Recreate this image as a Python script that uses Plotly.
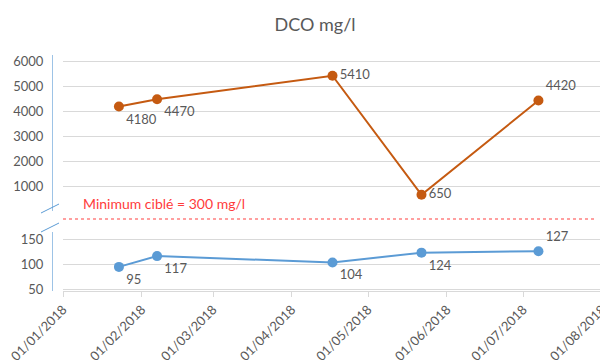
import plotly.graph_objects as go

dates = ["2018-01-23", "2018-02-07", "2018-04-17", "2018-05-22", "2018-07-07"]
dco_high = [4180, 4470, 5410, 650, 4420]
dco_low = [95, 117, 104, 124, 127]
month_ticks = ["2018-01-01", "2018-02-01", "2018-03-01", "2018-04-01",
               "2018-05-01", "2018-06-01", "2018-07-01", "2018-08-01"]
upper_ticks = [0, 1000, 2000, 3000, 4000, 5000, 6000]
upper_ticktext = ["", "1000", "2000", "3000", "4000", "5000", "6000"]
lower_ticks = [50, 100, 150]

ORANGE = "#C55A11"
BLUE = "#5B9BD5"
GRID = "#D9D9D9"
TXT = "#595959"
FONT = "Lato"

# page body has an 8px margin: the figure is drawn 8px right/down
OFF = 8

fig = go.Figure()
fig.add_trace(go.Scatter(
    x=dates, y=dco_high, yaxis="y2", mode="lines+markers+text",
    line=dict(color=ORANGE, width=2), marker=dict(color=ORANGE, size=10),
    text=[str(v) for v in dco_high],
    textposition=["bottom right", "bottom right", "middle right", "middle right", "top right"],
    textfont=dict(color=TXT, size=13, family=FONT), showlegend=False, cliponaxis=False))
fig.add_trace(go.Scatter(
    x=dates, y=dco_low, yaxis="y", mode="lines+markers+text",
    line=dict(color=BLUE, width=2), marker=dict(color=BLUE, size=10),
    text=[str(v) for v in dco_low],
    textposition=["bottom right", "bottom right", "bottom right", "bottom right", "top right"],
    textfont=dict(color=TXT, size=13, family=FONT), showlegend=False, cliponaxis=False))

def py(p):
    return (291 - p) / 251

def px(p):
    return (p - 52) / 550

shapes = [
    dict(type="line", xref="paper", yref="paper", x0=px(63), x1=px(597), y0=py(219), y1=py(219),
         line=dict(color="#FF8080", width=1.5, dash="dot")),
    dict(type="line", xref="paper", yref="paper", x0=px(41), x1=px(59), y0=py(213), y1=py(204),
         line=dict(color=BLUE, width=1)),
    dict(type="line", xref="paper", yref="paper", x0=px(41), x1=px(59), y0=py(232), y1=py(223),
         line=dict(color=BLUE, width=1)),
]

fig.update_layout(
    width=608 - OFF, height=360 - OFF,
    margin=dict(l=52 - OFF, r=6, t=40 - OFF, b=69, autoexpand=False),
    paper_bgcolor="white", plot_bgcolor="white",
    font=dict(family=FONT, color=TXT, size=13),
    title=dict(text="DCO mg/l", x=(315 - OFF) / (608 - OFF), xanchor="center",
               y=1 - (25 - OFF) / (360 - OFF), yanchor="middle",
               font=dict(size=18, color=TXT, family=FONT)),
    xaxis=dict(type="date", range=["2018-01-01", "2018-08-01"], domain=[px(63), 1],
               tickvals=month_ticks, tickformat="%d/%m/%Y", tickangle=-45,
               showgrid=False, showline=True, linecolor=GRID, ticks="outside",
               tickcolor=GRID, ticklen=5, anchor="y", automargin=False,
               ticklabeloverflow="allow",
               tickfont=dict(size=13, color=TXT)),
    yaxis=dict(domain=[0, py(232)], range=[46, 166], tickvals=lower_ticks,
               showgrid=True, gridcolor=GRID, showline=True, linecolor="#9DC3E6",
               anchor="free", position=0, zeroline=False, ticks="", ticklabelstandoff=6,
               automargin=False),
    yaxis2=dict(domain=[py(211), py(55)], range=[0, 6240], tickvals=upper_ticks,
                ticktext=upper_ticktext, showgrid=True, gridcolor=GRID, showline=True,
                linecolor="#9DC3E6", anchor="free", position=0, zeroline=False, ticks="",
                ticklabelstandoff=6, automargin=False),
    shapes=shapes,
    annotations=[dict(text="Minimum ciblé = 300 mg/l", xref="paper", yref="paper",
                      x=px(81), y=py(203), xanchor="left", yanchor="middle", showarrow=False,
                      font=dict(color="#FF3B3B", size=14, family=FONT))],
)

fig.write_html("out.html")
